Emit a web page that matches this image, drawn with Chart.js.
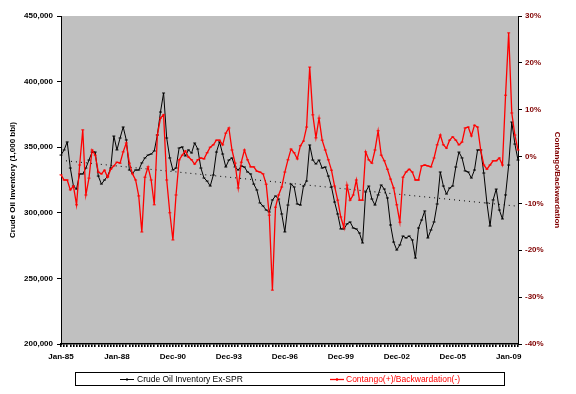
<!DOCTYPE html>
<html><head><meta charset="utf-8">
<script src="https://cdn.jsdelivr.net/npm/chart.js@4"></script>
<style>html,body{margin:0;padding:0;background:#fff}</style>
</head><body>
<canvas id="c" width="576" height="394"></canvas>
<script>
// Bi-monthly categories, Jan-85 .. Jul-09
const monthNames = ['Jan','Feb','Mar','Apr','May','Jun','Jul','Aug','Sep','Oct','Nov','Dec'];
const categories = [];
for (let i = 0; i < 148; i++) {
  const m = i * 2;
  categories.push(monthNames[m % 12] + '-' + String((85 + Math.floor(m / 12)) % 100).padStart(2, '0'));
}
const tickLabels = ['Jan-85','Jan-88','Dec-90','Dec-93','Dec-96','Dec-99','Dec-02','Dec-05','Jan-09'];
const tickEvery = 18;

// Crude oil inventory ex-SPR (1,000 bbl)
const inventory = [
 344000,347900,354000,334100,320400,318100,329600,329600,334100,340200,
 346300,346300,328000,321900,325000,328000,334100,358500,347900,357000,
 365400,355500,332600,330300,332600,332600,338000,341800,344000,344800,
 347100,359300,376800,391300,357000,341800,332600,334100,349400,350200,
 343300,347900,345600,353200,348600,334100,326500,324200,320400,328800,
 346300,354000,344800,334900,340200,341800,334900,332600,335700,334900,
 331100,329600,321900,317400,307500,305200,302100,300600,309800,312800,
 310500,299100,285400,305900,321900,319700,306700,305900,320400,324200,
 351700,340200,337200,340200,334100,334900,328000,319700,308200,299100,
 287700,287700,291500,293000,288400,287700,284600,277000,315900,320400,
 310500,305900,313600,321200,318100,311300,290700,277700,271600,275500,
 282300,280800,282300,279300,265500,288400,294500,301400,280800,286900,
 293000,306700,331100,320400,314300,318900,320400,334900,346300,341800,
 331900,331100,326500,332600,347900,347900,330300,307500,289900,309800,
 318100,302100,295300,313600,336400,369200,352400,340200
];
// Contango (+) / Backwardation (-), percent
const spread = [
 -3.9,-5.0,-5.0,-7.1,-6.3,-10.3,-1.8,5.7,-8.2,-4.6,
 1.4,0.3,-3.3,-3.7,-2.9,-4.4,-2.7,-2.0,-1.2,-1.4,
 1.0,2.9,-1.4,-3.7,-5.0,-8.4,-16.1,-4.4,-2.2,-5.0,
 -10.3,4.6,8.2,8.9,-5.0,-12.0,-17.8,-8.2,-0.7,0.3,
 1.2,-0.1,-0.7,-1.6,-0.7,-0.3,-0.5,0.8,2.0,2.5,
 3.5,3.5,2.5,5.0,6.1,1.4,-1.4,-6.7,-1.2,1.4,
 -0.7,-2.2,-2.2,-3.1,-3.3,-3.7,-5.9,-12.5,-28.5,-10.8,
 -8.2,-6.5,-3.3,-0.7,1.6,0.8,-0.5,2.3,3.3,6.3,
 19.1,8.9,4.0,8.2,3.5,1.4,-0.7,-2.9,-6.3,-9.3,
 -12.9,-15.2,-6.1,-9.3,-8.2,-5.0,-9.3,-9.3,1.0,-0.7,
 -1.4,1.4,5.5,0.3,-0.9,-2.7,-4.8,-6.7,-10.3,-14.0,
 -4.4,-3.3,-2.7,-3.3,-5.0,-5.0,-2.0,-1.8,-2.0,-2.2,
 -0.3,2.5,4.6,2.5,1.8,3.5,4.2,3.5,2.5,3.1,
 6.1,6.3,4.4,6.7,6.3,1.4,-1.8,-2.7,-1.8,-0.9,
 -0.9,-0.3,-1.8,13.1,26.4,9.3,4.6,1.4
];
// Linear trend of inventory (end points)
const trendStart = 340000, trendEnd = 305000;
const trend = categories.map((_, i) => i === 0 ? trendStart : (i === categories.length - 1 ? trendEnd : null));

const seriesNames = ['Crude Oil Inventory Ex-SPR', 'Contango(+)/Backwardation(-)'];
const DARKRED = '#800000';
const FONT = "'Liberation Sans', Arial, sans-serif";

const fmt = v => String(v).replace(/\B(?=(\d{3})+(?!\d))/g, ',');

const bgPlugin = {
  id: 'bg',
  beforeDraw(chart) {
    const {ctx, chartArea: a} = chart;
    ctx.save();
    ctx.fillStyle = '#fff';
    ctx.fillRect(0, 0, chart.width, chart.height);
    ctx.fillStyle = '#C0C0C0';
    ctx.fillRect(a.left, a.top, a.right - a.left, a.bottom - a.top);
    ctx.restore();
  }
};
const legendPlugin = {
  id: 'customLegend',
  afterDraw(chart) {
    const ctx = chart.ctx;
    ctx.save();
    ctx.fillStyle = '#fff';
    ctx.fillRect(75, 372, 429, 14);
    ctx.strokeStyle = '#000';
    ctx.lineWidth = 1;
    ctx.strokeRect(75.5, 372.5, 429, 13);
    const y = 379.5;
    const items = [
      {x0: 120, x1: 134, tx: 137, color: '#000', text: seriesNames[0], w: 1},
      {x0: 330, x1: 344, tx: 346, color: '#FF0000', text: seriesNames[1], w: 1.3}
    ];
    ctx.font = '8.5px ' + FONT;
    ctx.textBaseline = 'middle';
    items.forEach(it => {
      ctx.strokeStyle = it.color;
      ctx.lineWidth = it.w;
      ctx.beginPath(); ctx.moveTo(it.x0, y); ctx.lineTo(it.x1, y); ctx.stroke();
      ctx.beginPath(); ctx.moveTo((it.x0 + it.x1) / 2, y - 1.5); ctx.lineTo((it.x0 + it.x1) / 2, y + 1.5); ctx.stroke();
      ctx.fillStyle = it.color;
      ctx.fillText(it.text, it.tx, y);
    });
    ctx.restore();
  }
};

new Chart(document.getElementById('c'), {
  type: 'line',
  data: {
    labels: categories,
    datasets: [
      {
        label: seriesNames[0], data: inventory, yAxisID: 'y',
        borderColor: '#000', backgroundColor: '#000', borderWidth: 1,
        pointStyle: 'line', pointRadius: 1.5, pointBorderWidth: 1, pointBorderColor: '#000',
        tension: 0, order: 1
      },
      {
        label: seriesNames[1], data: spread, yAxisID: 'y1',
        borderColor: '#FF0000', backgroundColor: '#FF0000', borderWidth: 1.3,
        pointStyle: 'line', pointRadius: 1.5, pointBorderWidth: 1, pointBorderColor: '#FF0000',
        tension: 0, order: 0
      },
      {
        label: 'Trend', data: trend, yAxisID: 'y', spanGaps: true,
        borderColor: '#000', borderWidth: 1, borderDash: [1, 4],
        pointRadius: 0, order: 2
      }
    ]
  },
  options: {
    responsive: false,
    animation: false,
    devicePixelRatio: 1,
    layout: {padding: {top: 16, left: 0, right: 0, bottom: 0}},
    plugins: {legend: {display: false}, tooltip: {enabled: false}},
    scales: {
      x: {
        type: 'category',
        offset: false,
        grid: {display: true, drawOnChartArea: false, tickLength: 3, color: '#000', lineWidth: 1.6, offset: false},
        border: {display: true, color: '#000', width: 1.5},
        ticks: {
          autoSkip: false, maxRotation: 0, minRotation: 0, padding: 5,
          color: '#000', font: {family: FONT, size: 8, weight: 'bold'},
          callback: (v, i) => (i % tickEvery === 0 && tickLabels[i / tickEvery]) ? tickLabels[i / tickEvery] : ''
        },
        afterFit: s => { s.height = 50; }
      },
      y: {
        position: 'left', min: 200000, max: 450000,
        grid: {drawOnChartArea: false, tickLength: 4, color: '#000'},
        border: {display: true, color: '#000', width: 1},
        ticks: {stepSize: 50000, padding: 4, color: '#000', font: {family: FONT, size: 8, weight: 'bold'}, callback: v => fmt(v)},
        title: {display: true, text: 'Crude Oil Inventory (1,000 bbl)', color: '#000', font: {family: FONT, size: 8, weight: 'bold'}, padding: {top: 8, bottom: 0}},
        afterFit: s => { s.width = 61; }
      },
      y1: {
        position: 'right', min: -40, max: 30,
        grid: {drawOnChartArea: false, tickLength: 4, color: '#000'},
        border: {display: true, color: '#000', width: 1},
        ticks: {stepSize: 10, padding: 3, color: DARKRED, font: {family: FONT, size: 8, weight: 'bold'}, callback: v => v + '%'},
        title: {display: true, text: 'Contango/Backwardation', color: DARKRED, font: {family: FONT, size: 8, weight: 'bold'}, padding: {top: 14, bottom: 0}},
        afterFit: s => { s.width = 58; }
      }
    }
  },
  plugins: [bgPlugin, legendPlugin]
});
</script>
</body></html>
